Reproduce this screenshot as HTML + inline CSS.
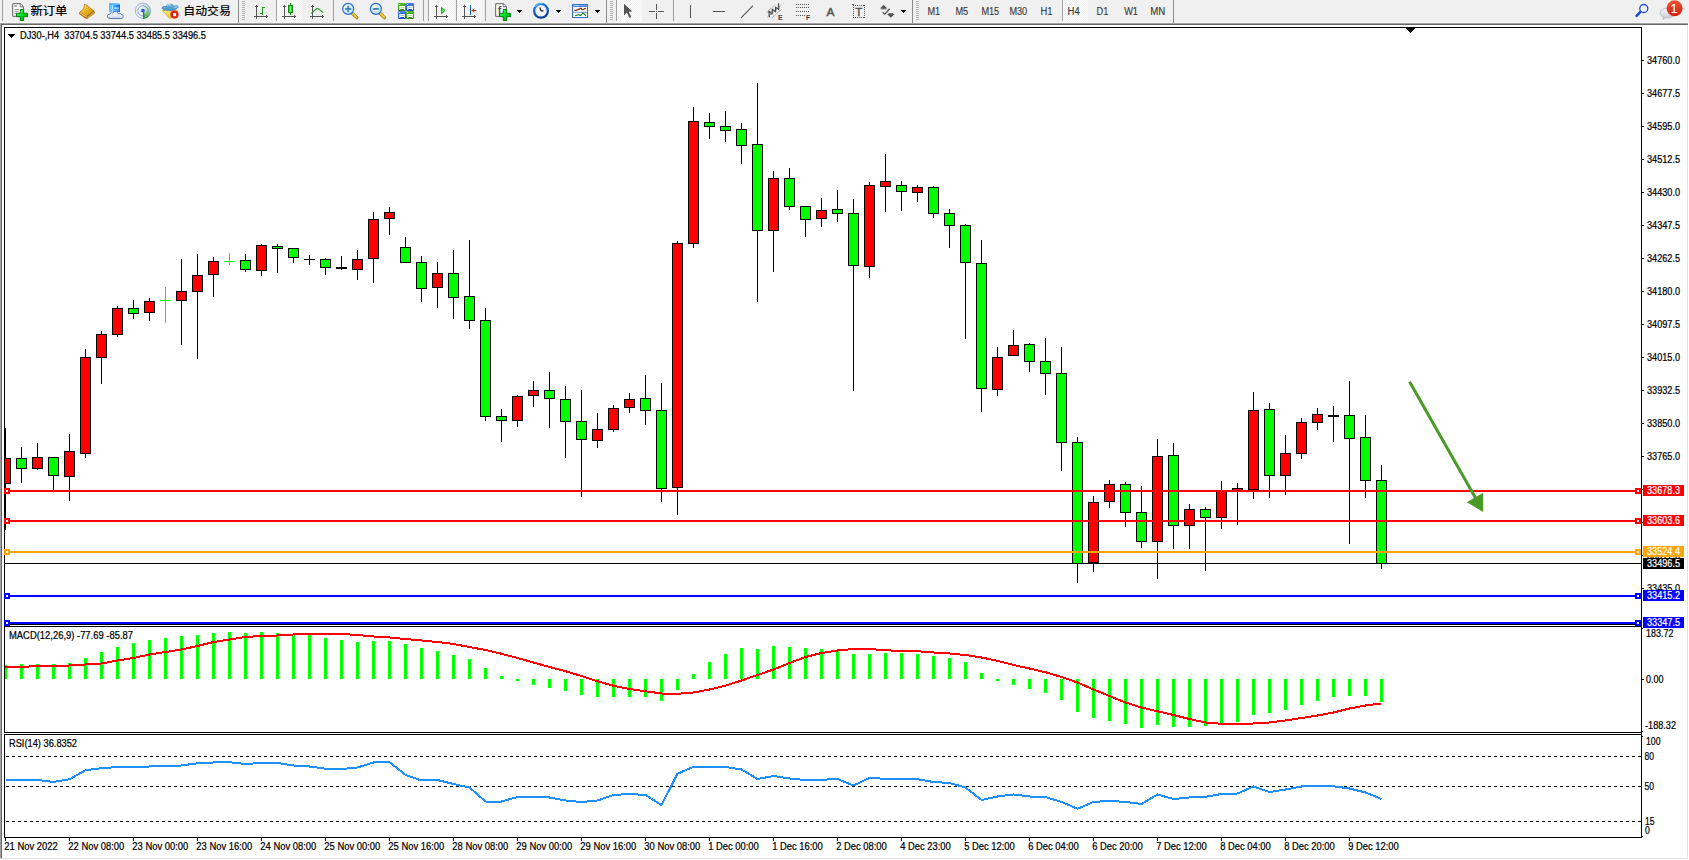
<!DOCTYPE html>
<html lang="zh-CN">
<head>
<meta charset="utf-8">
<title>DJ30-,H4</title>
<style>
html,body{margin:0;padding:0;background:#fff;overflow:hidden}
svg{display:block}
text{font-family:"Liberation Sans","Noto Sans CJK SC",sans-serif;white-space:pre}
</style>
</head>
<body>
<svg width="1689" height="860" viewBox="0 0 1689 860">
<defs>
<pattern id="chk" width="2" height="2" patternUnits="userSpaceOnUse"><rect width="2" height="2" fill="#ffffff"/><rect width="1" height="1" fill="#f0f0f0"/><rect x="1" y="1" width="1" height="1" fill="#f0f0f0"/></pattern>
<linearGradient id="gPlus" x1="0" y1="0" x2="1" y2="1"><stop offset="0" stop-color="#7dff8c"/><stop offset="0.45" stop-color="#00e428"/><stop offset="1" stop-color="#009a12"/></linearGradient>
<linearGradient id="gGold" x1="0" y1="0" x2="1" y2="1"><stop offset="0" stop-color="#fbe27a"/><stop offset="0.5" stop-color="#e9b21e"/><stop offset="1" stop-color="#c88a10"/></linearGradient>
<linearGradient id="gBlueBox" x1="0" y1="0" x2="1" y2="0"><stop offset="0" stop-color="#7fd0ff"/><stop offset="0.35" stop-color="#2aa0ff"/><stop offset="1" stop-color="#1466d8"/></linearGradient>
<linearGradient id="gCloud" x1="0" y1="0" x2="0" y2="1"><stop offset="0" stop-color="#ffffff"/><stop offset="1" stop-color="#c9d6ee"/></linearGradient>
<linearGradient id="gHat" x1="0" y1="0" x2="0" y2="1"><stop offset="0" stop-color="#86c6ec"/><stop offset="1" stop-color="#3c8ccc"/></linearGradient>
<linearGradient id="gFace" x1="0" y1="0" x2="1" y2="1"><stop offset="0" stop-color="#fff08a"/><stop offset="1" stop-color="#eab00c"/></linearGradient>
<linearGradient id="gRed" x1="0" y1="0" x2="0" y2="1"><stop offset="0" stop-color="#ea5233"/><stop offset="1" stop-color="#d42316"/></linearGradient>
<linearGradient id="gCandle" x1="0" y1="0" x2="1" y2="0"><stop offset="0" stop-color="#18c018"/><stop offset="0.5" stop-color="#7dff7d"/><stop offset="1" stop-color="#18c018"/></linearGradient>
<radialGradient id="gLens" cx="0.4" cy="0.35" r="0.7"><stop offset="0" stop-color="#f4fbff"/><stop offset="1" stop-color="#b9dcf6"/></radialGradient>
<linearGradient id="gGrn" x1="0" y1="0" x2="0" y2="1"><stop offset="0" stop-color="#5cb82c"/><stop offset="1" stop-color="#2c8a10"/></linearGradient>
<linearGradient id="gBlu" x1="0" y1="0" x2="0" y2="1"><stop offset="0" stop-color="#4a86ee"/><stop offset="1" stop-color="#1444c4"/></linearGradient>
<linearGradient id="gClock" x1="0" y1="0" x2="0.3" y2="1"><stop offset="0" stop-color="#2a8cec"/><stop offset="0.5" stop-color="#0a62c8"/><stop offset="1" stop-color="#083c90"/></linearGradient>
<linearGradient id="gTpl" x1="0" y1="0" x2="0" y2="1"><stop offset="0" stop-color="#9cc4f4"/><stop offset="1" stop-color="#2f63c6"/></linearGradient>
<radialGradient id="gSig" cx="0.5" cy="0.5" r="0.5"><stop offset="0" stop-color="#2e9c2e"/><stop offset="0.55" stop-color="#6bb66b"/><stop offset="1" stop-color="#d4e6d4"/></radialGradient>
<linearGradient id="gBub" x1="0" y1="0" x2="0" y2="1"><stop offset="0" stop-color="#f6f6f8"/><stop offset="1" stop-color="#c9c9d6"/></linearGradient>
</defs>
<g shape-rendering="crispEdges">
<rect x="0" y="0" width="1689" height="23" fill="#f0f0f0"/>
<rect x="0" y="22" width="1689" height="1" fill="#f7f7f7"/>
<rect x="0" y="23" width="1688" height="1" fill="#a0a0a0"/>
<rect x="1" y="24" width="1687" height="1" fill="#696969"/>
<rect x="1688" y="23" width="1" height="2" fill="#ffffff"/>
<rect x="277" y="0" width="25" height="22" fill="url(#chk)"/>
<rect x="429" y="0" width="25" height="22" fill="url(#chk)"/>
<rect x="457" y="0" width="25" height="22" fill="url(#chk)"/>
<rect x="617" y="0" width="25" height="22" fill="url(#chk)"/>
<rect x="1063" y="0" width="25" height="22" fill="url(#chk)"/>
<rect x="2" y="0" width="1" height="21" fill="#a0a0a0"/>
<rect x="238" y="0" width="1" height="23" fill="#8c8c8c"/>
<rect x="606" y="0" width="1" height="23" fill="#8c8c8c"/>
<rect x="912" y="0" width="1" height="23" fill="#8c8c8c"/>
<rect x="1173" y="0" width="1" height="23" fill="#8c8c8c"/>
<rect x="276" y="0" width="1" height="21" fill="#a0a0a0"/>
<rect x="333" y="0" width="1" height="21" fill="#a0a0a0"/>
<rect x="423" y="0" width="1" height="21" fill="#a0a0a0"/>
<rect x="428" y="0" width="1" height="21" fill="#a0a0a0"/>
<rect x="456" y="0" width="1" height="21" fill="#a0a0a0"/>
<rect x="485" y="0" width="1" height="21" fill="#a0a0a0"/>
<rect x="616" y="0" width="1" height="21" fill="#a0a0a0"/>
<rect x="673" y="0" width="1" height="21" fill="#a0a0a0"/>
<rect x="1062" y="0" width="1" height="21" fill="#a0a0a0"/>
<rect x="242" y="1" width="3" height="1" fill="#b2b2b2"/>
<rect x="242" y="3" width="3" height="1" fill="#b2b2b2"/>
<rect x="242" y="5" width="3" height="1" fill="#b2b2b2"/>
<rect x="242" y="7" width="3" height="1" fill="#b2b2b2"/>
<rect x="242" y="9" width="3" height="1" fill="#b2b2b2"/>
<rect x="242" y="11" width="3" height="1" fill="#b2b2b2"/>
<rect x="242" y="13" width="3" height="1" fill="#b2b2b2"/>
<rect x="242" y="15" width="3" height="1" fill="#b2b2b2"/>
<rect x="242" y="17" width="3" height="1" fill="#b2b2b2"/>
<rect x="242" y="19" width="3" height="1" fill="#b2b2b2"/>
<rect x="610" y="1" width="3" height="1" fill="#b2b2b2"/>
<rect x="610" y="3" width="3" height="1" fill="#b2b2b2"/>
<rect x="610" y="5" width="3" height="1" fill="#b2b2b2"/>
<rect x="610" y="7" width="3" height="1" fill="#b2b2b2"/>
<rect x="610" y="9" width="3" height="1" fill="#b2b2b2"/>
<rect x="610" y="11" width="3" height="1" fill="#b2b2b2"/>
<rect x="610" y="13" width="3" height="1" fill="#b2b2b2"/>
<rect x="610" y="15" width="3" height="1" fill="#b2b2b2"/>
<rect x="610" y="17" width="3" height="1" fill="#b2b2b2"/>
<rect x="610" y="19" width="3" height="1" fill="#b2b2b2"/>
<rect x="916" y="1" width="3" height="1" fill="#b2b2b2"/>
<rect x="916" y="3" width="3" height="1" fill="#b2b2b2"/>
<rect x="916" y="5" width="3" height="1" fill="#b2b2b2"/>
<rect x="916" y="7" width="3" height="1" fill="#b2b2b2"/>
<rect x="916" y="9" width="3" height="1" fill="#b2b2b2"/>
<rect x="916" y="11" width="3" height="1" fill="#b2b2b2"/>
<rect x="916" y="13" width="3" height="1" fill="#b2b2b2"/>
<rect x="916" y="15" width="3" height="1" fill="#b2b2b2"/>
<rect x="916" y="17" width="3" height="1" fill="#b2b2b2"/>
<rect x="916" y="19" width="3" height="1" fill="#b2b2b2"/>
<rect x="517" y="10" width="5" height="1" fill="#000"/>
<rect x="518" y="11" width="3" height="1" fill="#000"/>
<rect x="519" y="12" width="1" height="1" fill="#000"/>
<rect x="556" y="10" width="5" height="1" fill="#000"/>
<rect x="557" y="11" width="3" height="1" fill="#000"/>
<rect x="558" y="12" width="1" height="1" fill="#000"/>
<rect x="595" y="10" width="5" height="1" fill="#000"/>
<rect x="596" y="11" width="3" height="1" fill="#000"/>
<rect x="597" y="12" width="1" height="1" fill="#000"/>
<rect x="901" y="10" width="5" height="1" fill="#000"/>
<rect x="902" y="11" width="3" height="1" fill="#000"/>
<rect x="903" y="12" width="1" height="1" fill="#000"/>
<rect x="256" y="5" width="1" height="14" fill="#545454"/>
<rect x="255" y="6" width="3" height="1" fill="#545454"/>
<rect x="254" y="16" width="14" height="1" fill="#545454"/>
<rect x="266" y="15" width="1" height="3" fill="#545454"/>
<rect x="284" y="5" width="1" height="14" fill="#545454"/>
<rect x="283" y="6" width="3" height="1" fill="#545454"/>
<rect x="282" y="16" width="14" height="1" fill="#545454"/>
<rect x="294" y="15" width="1" height="3" fill="#545454"/>
<rect x="312" y="5" width="1" height="14" fill="#545454"/>
<rect x="311" y="6" width="3" height="1" fill="#545454"/>
<rect x="310" y="16" width="14" height="1" fill="#545454"/>
<rect x="322" y="15" width="1" height="3" fill="#545454"/>
<rect x="436" y="5" width="1" height="14" fill="#545454"/>
<rect x="435" y="6" width="3" height="1" fill="#545454"/>
<rect x="434" y="16" width="14" height="1" fill="#545454"/>
<rect x="446" y="15" width="1" height="3" fill="#545454"/>
<rect x="464" y="5" width="1" height="14" fill="#545454"/>
<rect x="463" y="6" width="3" height="1" fill="#545454"/>
<rect x="462" y="16" width="14" height="1" fill="#545454"/>
<rect x="474" y="15" width="1" height="3" fill="#545454"/>
<rect x="262" y="7" width="1" height="8" fill="#1c9c1c"/>
<rect x="263" y="7" width="2" height="1" fill="#1c9c1c"/>
<rect x="260" y="13" width="2" height="1" fill="#1c9c1c"/>
<rect x="290" y="3" width="1" height="12" fill="#0c8c0c"/>
<rect x="288" y="5" width="5" height="8" fill="#0c8c0c"/>
<rect x="289" y="6" width="3" height="6" fill="url(#gCandle)"/>
<rect x="470" y="5" width="1" height="10" fill="#1464b4"/>
<rect x="649" y="11" width="6" height="1" fill="#545454"/>
<rect x="658" y="11" width="6" height="1" fill="#545454"/>
<rect x="656" y="4" width="1" height="6" fill="#545454"/>
<rect x="656" y="13" width="1" height="6" fill="#545454"/>
<rect x="656" y="11" width="1" height="1" fill="#545454"/>
<rect x="690" y="5" width="1" height="13" fill="#545454"/>
<rect x="713" y="11" width="12" height="1" fill="#545454"/>
<rect x="796" y="4" width="1" height="1" fill="#545454"/>
<rect x="798" y="4" width="1" height="1" fill="#545454"/>
<rect x="800" y="4" width="1" height="1" fill="#545454"/>
<rect x="802" y="4" width="1" height="1" fill="#545454"/>
<rect x="804" y="4" width="1" height="1" fill="#545454"/>
<rect x="806" y="4" width="1" height="1" fill="#545454"/>
<rect x="808" y="4" width="1" height="1" fill="#545454"/>
<rect x="796" y="7" width="1" height="1" fill="#545454"/>
<rect x="798" y="7" width="1" height="1" fill="#545454"/>
<rect x="800" y="7" width="1" height="1" fill="#545454"/>
<rect x="802" y="7" width="1" height="1" fill="#545454"/>
<rect x="804" y="7" width="1" height="1" fill="#545454"/>
<rect x="806" y="7" width="1" height="1" fill="#545454"/>
<rect x="808" y="7" width="1" height="1" fill="#545454"/>
<rect x="796" y="11" width="1" height="1" fill="#545454"/>
<rect x="798" y="11" width="1" height="1" fill="#545454"/>
<rect x="800" y="11" width="1" height="1" fill="#545454"/>
<rect x="802" y="11" width="1" height="1" fill="#545454"/>
<rect x="804" y="11" width="1" height="1" fill="#545454"/>
<rect x="806" y="11" width="1" height="1" fill="#545454"/>
<rect x="808" y="11" width="1" height="1" fill="#545454"/>
<rect x="796" y="15" width="1" height="1" fill="#545454"/>
<rect x="798" y="15" width="1" height="1" fill="#545454"/>
<rect x="800" y="15" width="1" height="1" fill="#545454"/>
<rect x="802" y="15" width="1" height="1" fill="#545454"/>
<rect x="804" y="15" width="1" height="1" fill="#545454"/>
<rect x="853" y="5" width="1" height="1" fill="#545454"/>
<rect x="853" y="17" width="1" height="1" fill="#545454"/>
<rect x="855" y="5" width="1" height="1" fill="#545454"/>
<rect x="855" y="17" width="1" height="1" fill="#545454"/>
<rect x="857" y="5" width="1" height="1" fill="#545454"/>
<rect x="857" y="17" width="1" height="1" fill="#545454"/>
<rect x="859" y="5" width="1" height="1" fill="#545454"/>
<rect x="859" y="17" width="1" height="1" fill="#545454"/>
<rect x="861" y="5" width="1" height="1" fill="#545454"/>
<rect x="861" y="17" width="1" height="1" fill="#545454"/>
<rect x="863" y="5" width="1" height="1" fill="#545454"/>
<rect x="863" y="17" width="1" height="1" fill="#545454"/>
<rect x="853" y="5" width="1" height="1" fill="#545454"/>
<rect x="864" y="5" width="1" height="1" fill="#545454"/>
<rect x="853" y="7" width="1" height="1" fill="#545454"/>
<rect x="864" y="7" width="1" height="1" fill="#545454"/>
<rect x="853" y="9" width="1" height="1" fill="#545454"/>
<rect x="864" y="9" width="1" height="1" fill="#545454"/>
<rect x="853" y="11" width="1" height="1" fill="#545454"/>
<rect x="864" y="11" width="1" height="1" fill="#545454"/>
<rect x="853" y="13" width="1" height="1" fill="#545454"/>
<rect x="864" y="13" width="1" height="1" fill="#545454"/>
<rect x="853" y="15" width="1" height="1" fill="#545454"/>
<rect x="864" y="15" width="1" height="1" fill="#545454"/>
<rect x="853" y="17" width="1" height="1" fill="#545454"/>
<rect x="864" y="17" width="1" height="1" fill="#545454"/>
<rect x="852" y="4" width="2" height="1" fill="#545454"/>
</g>
<path d="M13.6 3.6h6.6l3.2 3.2v8.6a1 1 0 0 1 -1 1h-8.8a1 1 0 0 1 -1 -1v-10.8a1 1 0 0 1 1 -1z" fill="#fff" stroke="#787878" stroke-width="1.2"/>
<path d="M20.2 3.8v3h3" fill="#f4f4f4" stroke="#787878" stroke-width="1"/>
<path d="M14.2 6h2.6" stroke="#8c8c8c" stroke-width="1.4"/><path d="M14.2 9.5h4.6M14.2 11.5h4.4M14.2 13.5h2" stroke="#8c8c8c" stroke-width="0.9"/>
<path d="M20.3 9.5h3.4v3.8h3.8v3.4h-3.8v3.8h-3.4v-3.8h-3.8v-3.4h3.8z" fill="url(#gPlus)" stroke="#067a10" stroke-width="1"/>
<path d="M84.3 4L86 4.4L93.9 10.4L94.9 12.5L94.3 14L87 18.9L85.6 18.7L79.1 13.9L79.2 12.6L83.4 8.4Z" fill="#a86c0c"/>
<path d="M84.6 4.9L85.8 5.1L93.3 10.8L86.6 15.9L80.4 12.2L84 8.6Z" fill="url(#gGold)"/>
<path d="M80 12.7L86.6 16.6L86.7 18L79.8 13.6Z" fill="#d9a21a"/>
<path d="M80.1 12.9L86.5 16.8" fill="none" stroke="#f8e08c" stroke-width="0.7"/>
<path d="M87.5 17.2L94 12.3M87.6 18L94.3 13.2" fill="none" stroke="#ecdca0" stroke-width="0.5"/>
<path d="M109 3.6L112.2 3.2L119.3 3.8L120 4.6V12H109Z" fill="#1e96ff"/>
<path d="M109 4.2L112.2 5.2V12H109Z" fill="#5cc0ff"/>
<path d="M112.2 5.2L120 4.8V12H112.2Z" fill="url(#gBlueBox)"/>
<path d="M109 3.8L112.2 5.2L120 4.7L119.3 3.8L112.2 3.2Z" fill="#6ab8f6"/>
<path d="M112.3 5.2V12" stroke="#d8f0ff" stroke-width="0.7"/>
<path d="M114.4 8.1h4.4" stroke="#f2faff" stroke-width="1.1"/><path d="M114.4 10.3h4.8" stroke="#8ccaf8" stroke-width="0.8"/>
<path d="M110.2 18.5C108 18.5 107.2 17.2 107.4 16C107.6 14.8 108.6 14 109.8 14.2C110 13 111.6 12.4 112.6 13.2C113.2 11.6 115 11.2 116.2 11.6C117.4 12 118 12.8 118.2 13.8C119.4 13 121 13.4 121.6 14.6C123 14.8 123.4 16 123.1 17C122.8 18 121.8 18.5 120.6 18.5Z" fill="url(#gCloud)" stroke="#4c6aa8" stroke-width="0.9"/>
<path d="M142.9 10.8L142.90 2.90A7.9 7.9 0 0 1 145.99 3.53Z" fill="#2c9a2c" opacity="0.1"/>
<path d="M142.9 10.8L145.92 3.50A7.9 7.9 0 0 1 148.53 5.26Z" fill="#2c9a2c" opacity="0.16"/>
<path d="M142.9 10.8L148.49 5.21A7.9 7.9 0 0 1 150.22 7.84Z" fill="#2c9a2c" opacity="0.24"/>
<path d="M142.9 10.8L150.20 7.78A7.9 7.9 0 0 1 150.80 10.87Z" fill="#2c9a2c" opacity="0.32"/>
<path d="M142.9 10.8L150.80 10.80A7.9 7.9 0 0 1 150.17 13.89Z" fill="#2c9a2c" opacity="0.42"/>
<path d="M142.9 10.8L150.20 13.82A7.9 7.9 0 0 1 148.44 16.43Z" fill="#2c9a2c" opacity="0.54"/>
<path d="M142.9 10.8L148.49 16.39A7.9 7.9 0 0 1 145.86 18.12Z" fill="#2c9a2c" opacity="0.68"/>
<path d="M142.9 10.8L145.92 18.10A7.9 7.9 0 0 1 142.90 18.70Z" fill="#2c9a2c" opacity="0.82"/>
<circle cx="142.9" cy="10.8" r="7.6" fill="none" stroke="#4a74d8" stroke-width="0.9" opacity="0.55"/>
<circle cx="142.9" cy="10.8" r="5.1" fill="none" stroke="#3f6ad6" stroke-width="0.9" opacity="0.6"/>
<circle cx="142.9" cy="10.8" r="2.9" fill="none" stroke="#e8eef8" stroke-width="1" opacity="0.8"/>
<circle cx="142.9" cy="10.6" r="1.9" fill="#2a56cf"/>
<path d="M149.5 14.6A7.6 7.6 0 0 1 143.6 18.4" fill="none" stroke="#2a942a" stroke-width="1"/>
<path d="M143.6 11v7.6" stroke="#16a016" stroke-width="1.2"/>
<path d="M162.4 10.4L177.6 10.2L170 18.8Z" fill="url(#gFace)" stroke="#d8a00c" stroke-width="0.7" stroke-linejoin="round"/>
<path d="M162 8C162 6.6 164.6 6.2 166.3 6.6C166.3 3.4 173.7 3.4 173.8 6.3C175.6 5.6 178 5.2 178.1 6.4C178.2 8.6 173.8 10.4 170 10.4C166 10.4 162 9.8 162 8Z" fill="url(#gHat)" stroke="#2c82b4" stroke-width="0.7"/>
<path d="M167.6 5.4C168.2 4.4 169.4 4 170.4 4.2" fill="none" stroke="#cfe8f8" stroke-width="0.9" stroke-linecap="round"/>
<path d="M174.6 7.6C175.8 7.2 176.8 6.8 177.4 6.4" fill="none" stroke="#d8ecfa" stroke-width="0.7" stroke-linecap="round"/>
<path d="M166.6 6.6C168.6 7.6 171.6 7.6 173.6 6.4" fill="none" stroke="#2c82b4" stroke-width="0.6" opacity="0.7"/>
<circle cx="174.5" cy="14.6" r="4.1" fill="#de2208"/>
<rect x="173" y="13.1" width="3.1" height="3.1" fill="#fff"/>
<path d="M311.2 13.6C314 12 315.2 8.4 317.4 8.4C319.4 8.4 320.6 11.6 323.2 12.4" fill="none" stroke="#2a9c2a" stroke-width="1.2"/>
<path d="M441.6 7.4V13.6L445 10.5Z" fill="#6aea6a" stroke="#109810" stroke-width="1"/>
<path d="M471.6 10.5h4.6" stroke="#cc3404" stroke-width="1" fill="none"/><path d="M471.4 10.5L474.2 8.2V12.8Z" fill="#d83c04"/>
<path d="M352.4 13.5L356.8 17.700000000000003" stroke="#a07a10" stroke-width="3.2" stroke-linecap="round"/>
<path d="M352.59999999999997 13.5L356.59999999999997 17.3" stroke="#f0cc3c" stroke-width="1.8" stroke-linecap="round"/>
<circle cx="348.2" cy="8.9" r="5.5" fill="url(#gLens)" stroke="#2a6cd0" stroke-width="1.2"/>
<path d="M345.2 8.9h6" stroke="#3c84b4" stroke-width="1.8"/>
<path d="M348.2 5.9v6" stroke="#3c84b4" stroke-width="1.8"/>
<path d="M380.09999999999997 13.5L384.5 17.700000000000003" stroke="#a07a10" stroke-width="3.2" stroke-linecap="round"/>
<path d="M380.29999999999995 13.5L384.29999999999995 17.3" stroke="#f0cc3c" stroke-width="1.8" stroke-linecap="round"/>
<circle cx="375.9" cy="8.9" r="5.5" fill="url(#gLens)" stroke="#2a6cd0" stroke-width="1.2"/>
<path d="M372.9 8.9h6" stroke="#3c84b4" stroke-width="1.8"/>
<rect x="398" y="3" width="8" height="8" rx="1" fill="url(#gGrn)"/>
<path d="M399.2 6.1h5.7v3.9h-1v-.9h-3.7v.9h-1z" fill="#fff"/>
<rect x="399.1" y="4.1" width="0.9" height="0.9" fill="#fff" opacity="0.9"/>
<rect x="400.2" y="7.2" width="3.7" height="0.8" fill="#a6da8c"/>
<rect x="406" y="3" width="8" height="8" rx="1" fill="url(#gBlu)"/>
<path d="M407.2 6.1h5.7v3.9h-1v-.9h-3.7v.9h-1z" fill="#fff"/>
<rect x="407.1" y="4.1" width="0.9" height="0.9" fill="#fff" opacity="0.9"/>
<rect x="408.2" y="7.2" width="3.7" height="0.8" fill="#98b2f0"/>
<rect x="398" y="11" width="8" height="8" rx="1" fill="url(#gBlu)"/>
<path d="M399.2 14.1h5.7v3.9h-1v-.9h-3.7v.9h-1z" fill="#fff"/>
<rect x="399.1" y="12.1" width="0.9" height="0.9" fill="#fff" opacity="0.9"/>
<rect x="400.2" y="15.2" width="3.7" height="0.8" fill="#98b2f0"/>
<rect x="406" y="11" width="8" height="8" rx="1" fill="url(#gGrn)"/>
<path d="M407.2 14.1h5.7v3.9h-1v-.9h-3.7v.9h-1z" fill="#fff"/>
<rect x="407.1" y="12.1" width="0.9" height="0.9" fill="#fff" opacity="0.9"/>
<rect x="408.2" y="15.2" width="3.7" height="0.8" fill="#a6da8c"/>
<path d="M496.6 3.6h6.6l3.2 3.2v8.6a1 1 0 0 1 -1 1h-8.8a1 1 0 0 1 -1 -1v-10.8a1 1 0 0 1 1 -1z" fill="#fff" stroke="#787878" stroke-width="1.2"/>
<path d="M503.2 3.8v3h3" fill="#f4f4f4" stroke="#787878" stroke-width="1"/>
<text x="498" y="14" font-size="11.5" font-family="Liberation Serif,serif" fill="#484848" stroke="#484848" stroke-width="0.25">f</text>
<path d="M503.3 9.5h3.4v3.8h3.8v3.4h-3.8v3.8h-3.4v-3.8h-3.8v-3.4h3.8z" fill="url(#gPlus)" stroke="#067a10" stroke-width="1"/>
<circle cx="541" cy="10.8" r="6.9" fill="#f6f8fc" stroke="url(#gClock)" stroke-width="2.2"/>
<path d="M535.2 6.6A7.4 7.4 0 0 1 542 3.5" fill="none" stroke="#6cc0fa" stroke-width="1" stroke-linecap="round" opacity="0.9"/>
<circle cx="541" cy="10.8" r="4.6" fill="none" stroke="#a8a8a8" stroke-width="0.9" stroke-dasharray="0.6 1.81"/>
<path d="M539.9 7.4L541 10.8H543.5" fill="none" stroke="#181818" stroke-width="1.2" stroke-linejoin="round"/>
<rect x="572.5" y="4.5" width="15" height="13" fill="#fff" stroke="#2f6cc6" stroke-width="1"/>
<rect x="573" y="5" width="14" height="2" fill="url(#gTpl)"/>
<path d="M573.6 5.6h5" stroke="#e8f2ff" stroke-width="0.7"/>
<path d="M573 12.3h14" stroke="#5a8cd8" stroke-width="0.9"/>
<path d="M574.4 10.45H576.4L577.8 9.4H578.9L580 8.4H581L581.8 9.5H583.6L584.8 8.5H585.9" fill="none" stroke="#962204" stroke-width="1.2"/>
<path d="M575.1 15.5H576.6L577.8 14.5H578.7L579.8 15.5H580.7L582.7 13.3H583.6L585.9 15.8" fill="none" stroke="#168c16" stroke-width="1.2"/>
<path d="M624 3.8V15.4L626.9 12.6L629.4 17.9L631.3 17L628.8 11.8L632.4 11.6Z" fill="#545454"/>
<path d="M741 17.8L753 5.6" stroke="#545454" stroke-width="1.1"/>
<path d="M766.6 12.4L774.9 5M767.6 16.9L781 5.4M772 17.6L781.4 9.6" stroke="#6a6a6a" stroke-width="0.8" stroke-dasharray="1 0.6"/>
<path d="M769.4 17.4L768.9 11L772.1 14.2L772.3 9.2L775.6 11.7L775.6 7.1L778.8 9.6L778.5 3.2" fill="none" stroke="#484848" stroke-width="1.2" stroke-linejoin="round"/>
<text x="778" y="20" font-size="6.8" font-weight="bold" fill="#3c3c3c">E</text>
<text x="806" y="20" font-size="6.8" font-weight="bold" fill="#3c3c3c">F</text>
<text x="826.6" y="16" font-size="11.6" fill="#555" stroke="#555" stroke-width="0.5" textLength="7.9" lengthAdjust="spacingAndGlyphs">A</text>
<text x="855.3" y="16" font-size="11.6" fill="#555" stroke="#555" stroke-width="0.45">T</text>
<path d="M883.6 4.8L887.4 8.6H880Z" fill="#545454"/><path d="M881.2 8.4h5v1h-5z" fill="#545454"/>
<path d="M890.8 17.8L887 14H894.6Z" fill="#545454"/><path d="M888.4 13.2h5v1h-5z" fill="#545454"/>
<path d="M882.6 12.2L884.8 14.2L889.6 8.8" fill="none" stroke="#545454" stroke-width="1.3"/>
<text x="30.4" y="14.9" font-size="11.5" font-weight="500" fill="#000" textLength="37" lengthAdjust="spacingAndGlyphs">新订单</text>
<text x="183.3" y="14.9" font-size="11.5" font-weight="500" fill="#000" textLength="47.6" lengthAdjust="spacingAndGlyphs">自动交易</text>
<text x="927.4" y="14.60" fill="#3c3c3c" stroke="#3c3c3c" stroke-width="0.15" font-size="10" textLength="12.8" lengthAdjust="spacingAndGlyphs">M1</text>
<text x="955.4" y="14.60" fill="#3c3c3c" stroke="#3c3c3c" stroke-width="0.15" font-size="10" textLength="12.8" lengthAdjust="spacingAndGlyphs">M5</text>
<text x="981.4" y="14.60" fill="#3c3c3c" stroke="#3c3c3c" stroke-width="0.15" font-size="10" textLength="17.8" lengthAdjust="spacingAndGlyphs">M15</text>
<text x="1009.4" y="14.60" fill="#3c3c3c" stroke="#3c3c3c" stroke-width="0.15" font-size="10" textLength="17.8" lengthAdjust="spacingAndGlyphs">M30</text>
<text x="1040.4" y="14.60" fill="#3c3c3c" stroke="#3c3c3c" stroke-width="0.15" font-size="10" textLength="12.0" lengthAdjust="spacingAndGlyphs">H1</text>
<text x="1067.5" y="14.60" fill="#3c3c3c" stroke="#3c3c3c" stroke-width="0.15" font-size="10" textLength="12.2" lengthAdjust="spacingAndGlyphs">H4</text>
<text x="1096.6" y="14.60" fill="#3c3c3c" stroke="#3c3c3c" stroke-width="0.15" font-size="10" textLength="11.8" lengthAdjust="spacingAndGlyphs">D1</text>
<text x="1124.2" y="14.60" fill="#3c3c3c" stroke="#3c3c3c" stroke-width="0.15" font-size="10" textLength="13.8" lengthAdjust="spacingAndGlyphs">W1</text>
<text x="1150.3" y="14.60" fill="#3c3c3c" stroke="#3c3c3c" stroke-width="0.15" font-size="10" textLength="15.0" lengthAdjust="spacingAndGlyphs">MN</text>
<path d="M1640.6 11.6L1636.6 15.8" stroke="#1c50d0" stroke-width="2.6" stroke-linecap="round"/>
<circle cx="1643.8" cy="8.5" r="4" fill="#f6f6fb" stroke="#1c50d0" stroke-width="1.3"/>
<path d="M1667.6 8.2c4.4 0 7.6 2 7.6 4.8s-3.2 4.8 -7.6 4.8c-.8 0 -1.6 -.1 -2.3 -.2l-2 1.9l.3 -2.6c-2.2 -.8 -3.5 -2.2 -3.5 -3.9c0 -2.8 3.2 -4.8 7.5 -4.8z" fill="url(#gBub)" stroke="#b4b4bc" stroke-width="0.8"/>
<circle cx="1674.6" cy="8.3" r="8" fill="url(#gRed)"/>
<text x="1673.9" y="13" font-size="12.5" fill="#fff" text-anchor="middle" stroke="#fff" stroke-width="0.15">1</text>
<g shape-rendering="crispEdges">
<rect x="0" y="25" width="1689" height="835" fill="#ffffff"/>
<rect x="0" y="23" width="1" height="836" fill="#a0a0a0"/>
<rect x="1" y="24" width="1" height="834" fill="#696969"/>
<rect x="1687" y="25" width="1" height="834" fill="#e3e3e3"/>
<rect x="0" y="858" width="1688" height="1" fill="#e3e3e3"/>
<rect x="4" y="27" width="1638" height="1" fill="#000000"/>
<rect x="4" y="624" width="1638" height="1" fill="#000000"/>
<rect x="4" y="626" width="1638" height="1" fill="#000000"/>
<rect x="4" y="732" width="1638" height="1" fill="#000000"/>
<rect x="4" y="734" width="1638" height="1" fill="#000000"/>
<rect x="4" y="837" width="1638" height="1" fill="#000000"/>
<rect x="4" y="27" width="1" height="598" fill="#000000"/>
<rect x="4" y="626" width="1" height="107" fill="#000000"/>
<rect x="4" y="734" width="1" height="104" fill="#000000"/>
<rect x="1641" y="27" width="1" height="811" fill="#000000"/>
<rect x="5" y="428" width="1" height="102" fill="#000000"/>
<rect x="5" y="458" width="6" height="26" fill="#000000"/>
<rect x="5" y="459" width="5" height="24" fill="#ff0000"/>
<rect x="21" y="447" width="1" height="36" fill="#000000"/>
<rect x="16" y="458" width="11" height="11" fill="#000000"/>
<rect x="17" y="459" width="9" height="9" fill="#00ff00"/>
<rect x="37" y="443" width="1" height="27" fill="#000000"/>
<rect x="32" y="457" width="11" height="12" fill="#000000"/>
<rect x="33" y="458" width="9" height="10" fill="#ff0000"/>
<rect x="53" y="457" width="1" height="33" fill="#000000"/>
<rect x="48" y="457" width="11" height="19" fill="#000000"/>
<rect x="49" y="458" width="9" height="17" fill="#00ff00"/>
<rect x="69" y="434" width="1" height="67" fill="#000000"/>
<rect x="64" y="451" width="11" height="26" fill="#000000"/>
<rect x="65" y="452" width="9" height="24" fill="#ff0000"/>
<rect x="85" y="349" width="1" height="109" fill="#000000"/>
<rect x="80" y="357" width="11" height="97" fill="#000000"/>
<rect x="81" y="358" width="9" height="95" fill="#ff0000"/>
<rect x="101" y="331" width="1" height="53" fill="#000000"/>
<rect x="96" y="334" width="11" height="24" fill="#000000"/>
<rect x="97" y="335" width="9" height="22" fill="#ff0000"/>
<rect x="117" y="306" width="1" height="31" fill="#000000"/>
<rect x="112" y="308" width="11" height="27" fill="#000000"/>
<rect x="113" y="309" width="9" height="25" fill="#ff0000"/>
<rect x="133" y="300" width="1" height="19" fill="#000000"/>
<rect x="128" y="308" width="11" height="6" fill="#000000"/>
<rect x="129" y="309" width="9" height="4" fill="#00ff00"/>
<rect x="149" y="298" width="1" height="23" fill="#000000"/>
<rect x="144" y="301" width="11" height="12" fill="#000000"/>
<rect x="145" y="302" width="9" height="10" fill="#ff0000"/>
<rect x="165" y="287" width="1" height="36" fill="#00ff00"/>
<rect x="160" y="300" width="11" height="1" fill="#00ff00"/>
<rect x="181" y="259" width="1" height="86" fill="#000000"/>
<rect x="176" y="291" width="11" height="10" fill="#000000"/>
<rect x="177" y="292" width="9" height="8" fill="#ff0000"/>
<rect x="197" y="254" width="1" height="105" fill="#000000"/>
<rect x="192" y="275" width="11" height="17" fill="#000000"/>
<rect x="193" y="276" width="9" height="15" fill="#ff0000"/>
<rect x="213" y="257" width="1" height="40" fill="#000000"/>
<rect x="208" y="261" width="11" height="14" fill="#000000"/>
<rect x="209" y="262" width="9" height="12" fill="#ff0000"/>
<rect x="229" y="253" width="1" height="12" fill="#00ff00"/>
<rect x="224" y="261" width="11" height="1" fill="#00ff00"/>
<rect x="245" y="254" width="1" height="18" fill="#000000"/>
<rect x="240" y="260" width="11" height="10" fill="#000000"/>
<rect x="241" y="261" width="9" height="8" fill="#00ff00"/>
<rect x="261" y="244" width="1" height="32" fill="#000000"/>
<rect x="256" y="245" width="11" height="26" fill="#000000"/>
<rect x="257" y="246" width="9" height="24" fill="#ff0000"/>
<rect x="277" y="244" width="1" height="29" fill="#000000"/>
<rect x="272" y="246" width="11" height="3" fill="#000000"/>
<rect x="273" y="247" width="9" height="1" fill="#00ff00"/>
<rect x="293" y="248" width="1" height="15" fill="#000000"/>
<rect x="288" y="248" width="11" height="10" fill="#000000"/>
<rect x="289" y="249" width="9" height="8" fill="#00ff00"/>
<rect x="309" y="255" width="1" height="10" fill="#000000"/>
<rect x="304" y="259" width="11" height="1" fill="#000000"/>
<rect x="325" y="258" width="1" height="17" fill="#000000"/>
<rect x="320" y="259" width="11" height="9" fill="#000000"/>
<rect x="321" y="260" width="9" height="7" fill="#00ff00"/>
<rect x="341" y="256" width="1" height="14" fill="#000000"/>
<rect x="336" y="267" width="11" height="2" fill="#000000"/>
<rect x="357" y="250" width="1" height="30" fill="#000000"/>
<rect x="352" y="259" width="11" height="11" fill="#000000"/>
<rect x="353" y="260" width="9" height="9" fill="#ff0000"/>
<rect x="373" y="212" width="1" height="71" fill="#000000"/>
<rect x="368" y="219" width="11" height="40" fill="#000000"/>
<rect x="369" y="220" width="9" height="38" fill="#ff0000"/>
<rect x="389" y="207" width="1" height="28" fill="#000000"/>
<rect x="384" y="212" width="11" height="7" fill="#000000"/>
<rect x="385" y="213" width="9" height="5" fill="#ff0000"/>
<rect x="405" y="237" width="1" height="26" fill="#000000"/>
<rect x="400" y="247" width="11" height="16" fill="#000000"/>
<rect x="401" y="248" width="9" height="14" fill="#00ff00"/>
<rect x="421" y="256" width="1" height="46" fill="#000000"/>
<rect x="416" y="262" width="11" height="27" fill="#000000"/>
<rect x="417" y="263" width="9" height="25" fill="#00ff00"/>
<rect x="437" y="262" width="1" height="46" fill="#000000"/>
<rect x="432" y="273" width="11" height="15" fill="#000000"/>
<rect x="433" y="274" width="9" height="13" fill="#ff0000"/>
<rect x="453" y="250" width="1" height="69" fill="#000000"/>
<rect x="448" y="273" width="11" height="25" fill="#000000"/>
<rect x="449" y="274" width="9" height="23" fill="#00ff00"/>
<rect x="469" y="240" width="1" height="89" fill="#000000"/>
<rect x="464" y="296" width="11" height="25" fill="#000000"/>
<rect x="465" y="297" width="9" height="23" fill="#00ff00"/>
<rect x="485" y="308" width="1" height="113" fill="#000000"/>
<rect x="480" y="320" width="11" height="97" fill="#000000"/>
<rect x="481" y="321" width="9" height="95" fill="#00ff00"/>
<rect x="501" y="409" width="1" height="33" fill="#000000"/>
<rect x="496" y="416" width="11" height="5" fill="#000000"/>
<rect x="497" y="417" width="9" height="3" fill="#00ff00"/>
<rect x="517" y="395" width="1" height="32" fill="#000000"/>
<rect x="512" y="396" width="11" height="25" fill="#000000"/>
<rect x="513" y="397" width="9" height="23" fill="#ff0000"/>
<rect x="533" y="381" width="1" height="26" fill="#000000"/>
<rect x="528" y="390" width="11" height="6" fill="#000000"/>
<rect x="529" y="391" width="9" height="4" fill="#ff0000"/>
<rect x="549" y="372" width="1" height="56" fill="#000000"/>
<rect x="544" y="390" width="11" height="9" fill="#000000"/>
<rect x="545" y="391" width="9" height="7" fill="#00ff00"/>
<rect x="565" y="386" width="1" height="72" fill="#000000"/>
<rect x="560" y="399" width="11" height="23" fill="#000000"/>
<rect x="561" y="400" width="9" height="21" fill="#00ff00"/>
<rect x="581" y="390" width="1" height="107" fill="#000000"/>
<rect x="576" y="421" width="11" height="19" fill="#000000"/>
<rect x="577" y="422" width="9" height="17" fill="#00ff00"/>
<rect x="597" y="413" width="1" height="35" fill="#000000"/>
<rect x="592" y="429" width="11" height="12" fill="#000000"/>
<rect x="593" y="430" width="9" height="10" fill="#ff0000"/>
<rect x="613" y="405" width="1" height="27" fill="#000000"/>
<rect x="608" y="408" width="11" height="22" fill="#000000"/>
<rect x="609" y="409" width="9" height="20" fill="#ff0000"/>
<rect x="629" y="393" width="1" height="20" fill="#000000"/>
<rect x="624" y="399" width="11" height="9" fill="#000000"/>
<rect x="625" y="400" width="9" height="7" fill="#ff0000"/>
<rect x="645" y="375" width="1" height="50" fill="#000000"/>
<rect x="640" y="398" width="11" height="13" fill="#000000"/>
<rect x="641" y="399" width="9" height="11" fill="#00ff00"/>
<rect x="661" y="383" width="1" height="119" fill="#000000"/>
<rect x="656" y="410" width="11" height="79" fill="#000000"/>
<rect x="657" y="411" width="9" height="77" fill="#00ff00"/>
<rect x="677" y="241" width="1" height="274" fill="#000000"/>
<rect x="672" y="243" width="11" height="245" fill="#000000"/>
<rect x="673" y="244" width="9" height="243" fill="#ff0000"/>
<rect x="693" y="107" width="1" height="141" fill="#000000"/>
<rect x="688" y="121" width="11" height="123" fill="#000000"/>
<rect x="689" y="122" width="9" height="121" fill="#ff0000"/>
<rect x="709" y="113" width="1" height="26" fill="#000000"/>
<rect x="704" y="122" width="11" height="5" fill="#000000"/>
<rect x="705" y="123" width="9" height="3" fill="#00ff00"/>
<rect x="725" y="111" width="1" height="31" fill="#000000"/>
<rect x="720" y="126" width="11" height="5" fill="#000000"/>
<rect x="721" y="127" width="9" height="3" fill="#00ff00"/>
<rect x="741" y="123" width="1" height="41" fill="#000000"/>
<rect x="736" y="129" width="11" height="17" fill="#000000"/>
<rect x="737" y="130" width="9" height="15" fill="#00ff00"/>
<rect x="757" y="83" width="1" height="219" fill="#000000"/>
<rect x="752" y="144" width="11" height="87" fill="#000000"/>
<rect x="753" y="145" width="9" height="85" fill="#00ff00"/>
<rect x="773" y="171" width="1" height="101" fill="#000000"/>
<rect x="768" y="178" width="11" height="53" fill="#000000"/>
<rect x="769" y="179" width="9" height="51" fill="#ff0000"/>
<rect x="789" y="168" width="1" height="42" fill="#000000"/>
<rect x="784" y="178" width="11" height="29" fill="#000000"/>
<rect x="785" y="179" width="9" height="27" fill="#00ff00"/>
<rect x="805" y="206" width="1" height="31" fill="#000000"/>
<rect x="800" y="206" width="11" height="14" fill="#000000"/>
<rect x="801" y="207" width="9" height="12" fill="#00ff00"/>
<rect x="821" y="198" width="1" height="29" fill="#000000"/>
<rect x="816" y="210" width="11" height="9" fill="#000000"/>
<rect x="817" y="211" width="9" height="7" fill="#ff0000"/>
<rect x="837" y="190" width="1" height="32" fill="#000000"/>
<rect x="832" y="209" width="11" height="5" fill="#000000"/>
<rect x="833" y="210" width="9" height="3" fill="#00ff00"/>
<rect x="853" y="199" width="1" height="192" fill="#000000"/>
<rect x="848" y="213" width="11" height="53" fill="#000000"/>
<rect x="849" y="214" width="9" height="51" fill="#00ff00"/>
<rect x="869" y="182" width="1" height="96" fill="#000000"/>
<rect x="864" y="185" width="11" height="82" fill="#000000"/>
<rect x="865" y="186" width="9" height="80" fill="#ff0000"/>
<rect x="885" y="154" width="1" height="58" fill="#000000"/>
<rect x="880" y="181" width="11" height="6" fill="#000000"/>
<rect x="881" y="182" width="9" height="4" fill="#ff0000"/>
<rect x="901" y="181" width="1" height="30" fill="#000000"/>
<rect x="896" y="185" width="11" height="7" fill="#000000"/>
<rect x="897" y="186" width="9" height="5" fill="#00ff00"/>
<rect x="917" y="185" width="1" height="17" fill="#000000"/>
<rect x="912" y="187" width="11" height="6" fill="#000000"/>
<rect x="913" y="188" width="9" height="4" fill="#ff0000"/>
<rect x="933" y="186" width="1" height="32" fill="#000000"/>
<rect x="928" y="187" width="11" height="27" fill="#000000"/>
<rect x="929" y="188" width="9" height="25" fill="#00ff00"/>
<rect x="949" y="209" width="1" height="39" fill="#000000"/>
<rect x="944" y="213" width="11" height="13" fill="#000000"/>
<rect x="945" y="214" width="9" height="11" fill="#00ff00"/>
<rect x="965" y="224" width="1" height="115" fill="#000000"/>
<rect x="960" y="225" width="11" height="38" fill="#000000"/>
<rect x="961" y="226" width="9" height="36" fill="#00ff00"/>
<rect x="981" y="240" width="1" height="172" fill="#000000"/>
<rect x="976" y="263" width="11" height="126" fill="#000000"/>
<rect x="977" y="264" width="9" height="124" fill="#00ff00"/>
<rect x="997" y="347" width="1" height="49" fill="#000000"/>
<rect x="992" y="357" width="11" height="33" fill="#000000"/>
<rect x="993" y="358" width="9" height="31" fill="#ff0000"/>
<rect x="1013" y="330" width="1" height="26" fill="#000000"/>
<rect x="1008" y="345" width="11" height="11" fill="#000000"/>
<rect x="1009" y="346" width="9" height="9" fill="#ff0000"/>
<rect x="1029" y="343" width="1" height="29" fill="#000000"/>
<rect x="1024" y="344" width="11" height="18" fill="#000000"/>
<rect x="1025" y="345" width="9" height="16" fill="#00ff00"/>
<rect x="1045" y="338" width="1" height="57" fill="#000000"/>
<rect x="1040" y="361" width="11" height="13" fill="#000000"/>
<rect x="1041" y="362" width="9" height="11" fill="#00ff00"/>
<rect x="1061" y="347" width="1" height="124" fill="#000000"/>
<rect x="1056" y="373" width="11" height="70" fill="#000000"/>
<rect x="1057" y="374" width="9" height="68" fill="#00ff00"/>
<rect x="1077" y="437" width="1" height="146" fill="#000000"/>
<rect x="1072" y="442" width="11" height="122" fill="#000000"/>
<rect x="1073" y="443" width="9" height="120" fill="#00ff00"/>
<rect x="1093" y="496" width="1" height="76" fill="#000000"/>
<rect x="1088" y="502" width="11" height="61" fill="#000000"/>
<rect x="1089" y="503" width="9" height="59" fill="#ff0000"/>
<rect x="1109" y="480" width="1" height="28" fill="#000000"/>
<rect x="1104" y="484" width="11" height="18" fill="#000000"/>
<rect x="1105" y="485" width="9" height="16" fill="#ff0000"/>
<rect x="1125" y="482" width="1" height="45" fill="#000000"/>
<rect x="1120" y="484" width="11" height="29" fill="#000000"/>
<rect x="1121" y="485" width="9" height="27" fill="#00ff00"/>
<rect x="1141" y="486" width="1" height="62" fill="#000000"/>
<rect x="1136" y="512" width="11" height="30" fill="#000000"/>
<rect x="1137" y="513" width="9" height="28" fill="#00ff00"/>
<rect x="1157" y="439" width="1" height="140" fill="#000000"/>
<rect x="1152" y="456" width="11" height="86" fill="#000000"/>
<rect x="1153" y="457" width="9" height="84" fill="#ff0000"/>
<rect x="1173" y="443" width="1" height="106" fill="#000000"/>
<rect x="1168" y="455" width="11" height="71" fill="#000000"/>
<rect x="1169" y="456" width="9" height="69" fill="#00ff00"/>
<rect x="1189" y="504" width="1" height="45" fill="#000000"/>
<rect x="1184" y="509" width="11" height="17" fill="#000000"/>
<rect x="1185" y="510" width="9" height="15" fill="#ff0000"/>
<rect x="1205" y="507" width="1" height="64" fill="#000000"/>
<rect x="1200" y="509" width="11" height="9" fill="#000000"/>
<rect x="1201" y="510" width="9" height="7" fill="#00ff00"/>
<rect x="1221" y="481" width="1" height="48" fill="#000000"/>
<rect x="1216" y="490" width="11" height="28" fill="#000000"/>
<rect x="1217" y="491" width="9" height="26" fill="#ff0000"/>
<rect x="1237" y="483" width="1" height="42" fill="#000000"/>
<rect x="1232" y="488" width="11" height="3" fill="#000000"/>
<rect x="1233" y="489" width="9" height="1" fill="#ff0000"/>
<rect x="1253" y="392" width="1" height="107" fill="#000000"/>
<rect x="1248" y="410" width="11" height="80" fill="#000000"/>
<rect x="1249" y="411" width="9" height="78" fill="#ff0000"/>
<rect x="1269" y="403" width="1" height="95" fill="#000000"/>
<rect x="1264" y="409" width="11" height="67" fill="#000000"/>
<rect x="1265" y="410" width="9" height="65" fill="#00ff00"/>
<rect x="1285" y="435" width="1" height="60" fill="#000000"/>
<rect x="1280" y="453" width="11" height="23" fill="#000000"/>
<rect x="1281" y="454" width="9" height="21" fill="#ff0000"/>
<rect x="1301" y="418" width="1" height="41" fill="#000000"/>
<rect x="1296" y="422" width="11" height="32" fill="#000000"/>
<rect x="1297" y="423" width="9" height="30" fill="#ff0000"/>
<rect x="1317" y="408" width="1" height="22" fill="#000000"/>
<rect x="1312" y="414" width="11" height="9" fill="#000000"/>
<rect x="1313" y="415" width="9" height="7" fill="#ff0000"/>
<rect x="1333" y="406" width="1" height="36" fill="#000000"/>
<rect x="1328" y="415" width="11" height="2" fill="#000000"/>
<rect x="1349" y="381" width="1" height="163" fill="#000000"/>
<rect x="1344" y="415" width="11" height="24" fill="#000000"/>
<rect x="1345" y="416" width="9" height="22" fill="#00ff00"/>
<rect x="1365" y="415" width="1" height="83" fill="#000000"/>
<rect x="1360" y="437" width="11" height="44" fill="#000000"/>
<rect x="1361" y="438" width="9" height="42" fill="#00ff00"/>
<rect x="1381" y="465" width="1" height="104" fill="#000000"/>
<rect x="1376" y="480" width="11" height="84" fill="#000000"/>
<rect x="1377" y="481" width="9" height="82" fill="#00ff00"/>
<rect x="5" y="563" width="1636" height="1" fill="#000000"/>
<rect x="5" y="665" width="2" height="14" fill="#00ff00"/>
<rect x="20" y="664" width="3" height="15" fill="#00ff00"/>
<rect x="36" y="664" width="3" height="15" fill="#00ff00"/>
<rect x="52" y="664" width="3" height="15" fill="#00ff00"/>
<rect x="68" y="663" width="3" height="16" fill="#00ff00"/>
<rect x="84" y="658" width="3" height="21" fill="#00ff00"/>
<rect x="100" y="652" width="3" height="27" fill="#00ff00"/>
<rect x="116" y="647" width="3" height="32" fill="#00ff00"/>
<rect x="132" y="643" width="3" height="36" fill="#00ff00"/>
<rect x="148" y="640" width="3" height="39" fill="#00ff00"/>
<rect x="164" y="638" width="3" height="41" fill="#00ff00"/>
<rect x="180" y="636" width="3" height="43" fill="#00ff00"/>
<rect x="196" y="635" width="3" height="44" fill="#00ff00"/>
<rect x="212" y="633" width="3" height="46" fill="#00ff00"/>
<rect x="228" y="632" width="3" height="47" fill="#00ff00"/>
<rect x="244" y="633" width="3" height="46" fill="#00ff00"/>
<rect x="260" y="632" width="3" height="47" fill="#00ff00"/>
<rect x="276" y="633" width="3" height="46" fill="#00ff00"/>
<rect x="292" y="634" width="3" height="45" fill="#00ff00"/>
<rect x="308" y="635" width="3" height="44" fill="#00ff00"/>
<rect x="324" y="638" width="3" height="41" fill="#00ff00"/>
<rect x="340" y="640" width="3" height="39" fill="#00ff00"/>
<rect x="356" y="642" width="3" height="37" fill="#00ff00"/>
<rect x="372" y="641" width="3" height="38" fill="#00ff00"/>
<rect x="388" y="641" width="3" height="38" fill="#00ff00"/>
<rect x="404" y="644" width="3" height="35" fill="#00ff00"/>
<rect x="420" y="648" width="3" height="31" fill="#00ff00"/>
<rect x="436" y="651" width="3" height="28" fill="#00ff00"/>
<rect x="452" y="655" width="3" height="24" fill="#00ff00"/>
<rect x="468" y="659" width="3" height="20" fill="#00ff00"/>
<rect x="484" y="668" width="3" height="11" fill="#00ff00"/>
<rect x="500" y="676" width="3" height="3" fill="#00ff00"/>
<rect x="516" y="679" width="3" height="2" fill="#00ff00"/>
<rect x="532" y="679" width="3" height="6" fill="#00ff00"/>
<rect x="548" y="679" width="3" height="9" fill="#00ff00"/>
<rect x="564" y="679" width="3" height="12" fill="#00ff00"/>
<rect x="580" y="679" width="3" height="16" fill="#00ff00"/>
<rect x="596" y="679" width="3" height="18" fill="#00ff00"/>
<rect x="612" y="679" width="3" height="18" fill="#00ff00"/>
<rect x="628" y="679" width="3" height="18" fill="#00ff00"/>
<rect x="644" y="679" width="3" height="18" fill="#00ff00"/>
<rect x="660" y="679" width="3" height="22" fill="#00ff00"/>
<rect x="676" y="679" width="3" height="11" fill="#00ff00"/>
<rect x="692" y="674" width="3" height="5" fill="#00ff00"/>
<rect x="708" y="662" width="3" height="17" fill="#00ff00"/>
<rect x="724" y="654" width="3" height="25" fill="#00ff00"/>
<rect x="740" y="648" width="3" height="31" fill="#00ff00"/>
<rect x="756" y="649" width="3" height="30" fill="#00ff00"/>
<rect x="772" y="646" width="3" height="33" fill="#00ff00"/>
<rect x="788" y="647" width="3" height="32" fill="#00ff00"/>
<rect x="804" y="648" width="3" height="31" fill="#00ff00"/>
<rect x="820" y="649" width="3" height="30" fill="#00ff00"/>
<rect x="836" y="651" width="3" height="28" fill="#00ff00"/>
<rect x="852" y="654" width="3" height="25" fill="#00ff00"/>
<rect x="868" y="654" width="3" height="25" fill="#00ff00"/>
<rect x="884" y="653" width="3" height="26" fill="#00ff00"/>
<rect x="900" y="653" width="3" height="26" fill="#00ff00"/>
<rect x="916" y="654" width="3" height="25" fill="#00ff00"/>
<rect x="932" y="656" width="3" height="23" fill="#00ff00"/>
<rect x="948" y="658" width="3" height="21" fill="#00ff00"/>
<rect x="964" y="662" width="3" height="17" fill="#00ff00"/>
<rect x="980" y="673" width="3" height="6" fill="#00ff00"/>
<rect x="996" y="679" width="3" height="2" fill="#00ff00"/>
<rect x="1012" y="679" width="3" height="6" fill="#00ff00"/>
<rect x="1028" y="679" width="3" height="10" fill="#00ff00"/>
<rect x="1044" y="679" width="3" height="14" fill="#00ff00"/>
<rect x="1060" y="679" width="3" height="21" fill="#00ff00"/>
<rect x="1076" y="679" width="3" height="33" fill="#00ff00"/>
<rect x="1092" y="679" width="3" height="39" fill="#00ff00"/>
<rect x="1108" y="679" width="3" height="42" fill="#00ff00"/>
<rect x="1124" y="679" width="3" height="45" fill="#00ff00"/>
<rect x="1140" y="679" width="3" height="49" fill="#00ff00"/>
<rect x="1156" y="679" width="3" height="46" fill="#00ff00"/>
<rect x="1172" y="679" width="3" height="48" fill="#00ff00"/>
<rect x="1188" y="679" width="3" height="48" fill="#00ff00"/>
<rect x="1204" y="679" width="3" height="47" fill="#00ff00"/>
<rect x="1220" y="679" width="3" height="45" fill="#00ff00"/>
<rect x="1236" y="679" width="3" height="43" fill="#00ff00"/>
<rect x="1252" y="679" width="3" height="36" fill="#00ff00"/>
<rect x="1268" y="679" width="3" height="34" fill="#00ff00"/>
<rect x="1284" y="679" width="3" height="31" fill="#00ff00"/>
<rect x="1300" y="679" width="3" height="26" fill="#00ff00"/>
<rect x="1316" y="679" width="3" height="22" fill="#00ff00"/>
<rect x="1332" y="679" width="3" height="18" fill="#00ff00"/>
<rect x="1348" y="679" width="3" height="17" fill="#00ff00"/>
<rect x="1364" y="679" width="3" height="17" fill="#00ff00"/>
<rect x="1380" y="679" width="3" height="23" fill="#00ff00"/>
<path d="M6 756.5H1641" stroke="#000" stroke-width="1" stroke-dasharray="3 3" fill="none"/>
<path d="M6 786.5H1641" stroke="#000" stroke-width="1" stroke-dasharray="3 3" fill="none"/>
<path d="M6 821.5H1641" stroke="#000" stroke-width="1" stroke-dasharray="3 3" fill="none"/>
<rect x="1642" y="60" width="2" height="1" fill="#000000"/>
<rect x="1642" y="93" width="2" height="1" fill="#000000"/>
<rect x="1642" y="126" width="2" height="1" fill="#000000"/>
<rect x="1642" y="159" width="2" height="1" fill="#000000"/>
<rect x="1642" y="192" width="2" height="1" fill="#000000"/>
<rect x="1642" y="225" width="2" height="1" fill="#000000"/>
<rect x="1642" y="258" width="2" height="1" fill="#000000"/>
<rect x="1642" y="291" width="2" height="1" fill="#000000"/>
<rect x="1642" y="324" width="2" height="1" fill="#000000"/>
<rect x="1642" y="357" width="2" height="1" fill="#000000"/>
<rect x="1642" y="390" width="2" height="1" fill="#000000"/>
<rect x="1642" y="423" width="2" height="1" fill="#000000"/>
<rect x="1642" y="456" width="2" height="1" fill="#000000"/>
<rect x="1642" y="489" width="2" height="1" fill="#000000"/>
<rect x="1642" y="522" width="2" height="1" fill="#000000"/>
<rect x="1642" y="555" width="2" height="1" fill="#000000"/>
<rect x="1642" y="588" width="2" height="1" fill="#000000"/>
<rect x="1642" y="679" width="2" height="1" fill="#000000"/>
<rect x="1642" y="628" width="1" height="1" fill="#000000"/>
<rect x="1642" y="731" width="1" height="1" fill="#000000"/>
<rect x="1642" y="736" width="1" height="1" fill="#000000"/>
<rect x="1642" y="836" width="1" height="1" fill="#000000"/>
<rect x="5" y="838" width="1" height="3" fill="#000000"/>
<rect x="69" y="838" width="1" height="3" fill="#000000"/>
<rect x="133" y="838" width="1" height="3" fill="#000000"/>
<rect x="197" y="838" width="1" height="3" fill="#000000"/>
<rect x="261" y="838" width="1" height="3" fill="#000000"/>
<rect x="325" y="838" width="1" height="3" fill="#000000"/>
<rect x="389" y="838" width="1" height="3" fill="#000000"/>
<rect x="453" y="838" width="1" height="3" fill="#000000"/>
<rect x="517" y="838" width="1" height="3" fill="#000000"/>
<rect x="581" y="838" width="1" height="3" fill="#000000"/>
<rect x="645" y="838" width="1" height="3" fill="#000000"/>
<rect x="709" y="838" width="1" height="3" fill="#000000"/>
<rect x="773" y="838" width="1" height="3" fill="#000000"/>
<rect x="837" y="838" width="1" height="3" fill="#000000"/>
<rect x="901" y="838" width="1" height="3" fill="#000000"/>
<rect x="965" y="838" width="1" height="3" fill="#000000"/>
<rect x="1029" y="838" width="1" height="3" fill="#000000"/>
<rect x="1093" y="838" width="1" height="3" fill="#000000"/>
<rect x="1157" y="838" width="1" height="3" fill="#000000"/>
<rect x="1221" y="838" width="1" height="3" fill="#000000"/>
<rect x="1285" y="838" width="1" height="3" fill="#000000"/>
<rect x="1349" y="838" width="1" height="3" fill="#000000"/>
</g>
<polyline points="5.5,667.50 21.5,667.00 37.5,666.00 53.5,666.00 69.5,665.50 85.5,664.50 101.5,663.50 117.5,660.50 133.5,658.00 149.5,654.50 165.5,652.00 181.5,649.50 197.5,646.00 213.5,642.00 229.5,639.50 245.5,637.00 261.5,636.00 277.5,635.50 293.5,634.50 309.5,634.00 325.5,634.00 341.5,634.00 357.5,635.00 373.5,636.50 389.5,637.50 405.5,639.00 421.5,640.50 437.5,642.00 453.5,644.00 469.5,647.00 485.5,650.00 501.5,653.75 517.5,658.00 533.5,662.50 549.5,667.00 565.5,671.25 581.5,676.00 597.5,681.25 613.5,685.75 629.5,689.00 645.5,691.25 661.5,693.50 677.5,693.75 693.5,692.50 709.5,689.50 725.5,685.75 741.5,680.50 757.5,675.00 773.5,669.50 789.5,663.00 805.5,657.00 821.5,653.00 837.5,650.50 853.5,649.00 869.5,649.00 885.5,650.25 901.5,651.00 917.5,651.25 933.5,652.50 949.5,653.50 965.5,655.00 981.5,657.50 997.5,660.75 1013.5,665.00 1029.5,668.50 1045.5,672.25 1061.5,677.00 1077.5,682.50 1093.5,689.50 1109.5,696.00 1125.5,702.50 1141.5,707.50 1157.5,711.25 1173.5,715.00 1189.5,719.00 1205.5,722.50 1221.5,723.75 1237.5,724.00 1253.5,723.50 1269.5,722.50 1285.5,720.50 1301.5,718.00 1317.5,715.50 1333.5,712.50 1349.5,708.50 1365.5,705.50 1381.5,703.50" fill="none" stroke="#ff0000" stroke-width="2" stroke-linejoin="round" shape-rendering="crispEdges"/>
<polyline points="5.5,780.00 21.5,780.00 37.5,780.00 53.5,782.00 69.5,779.25 85.5,770.25 101.5,768.25 117.5,767.00 133.5,767.00 149.5,766.50 165.5,766.00 181.5,765.50 197.5,763.25 213.5,762.50 229.5,762.25 245.5,764.00 261.5,763.00 277.5,763.00 293.5,765.50 309.5,766.50 325.5,768.75 341.5,769.00 357.5,767.50 373.5,762.50 389.5,762.00 405.5,775.00 421.5,780.50 437.5,780.00 453.5,784.00 469.5,787.50 485.5,801.50 501.5,801.50 517.5,797.00 533.5,797.00 549.5,797.50 565.5,800.50 581.5,802.00 597.5,800.50 613.5,795.00 629.5,794.00 645.5,795.00 661.5,805.00 677.5,773.75 693.5,766.75 709.5,766.75 725.5,767.00 741.5,769.50 757.5,779.00 773.5,776.00 789.5,778.50 805.5,780.00 821.5,779.75 837.5,779.00 853.5,785.50 869.5,778.00 885.5,778.75 901.5,779.00 917.5,779.25 933.5,782.00 949.5,783.00 965.5,787.50 981.5,800.00 997.5,796.50 1013.5,794.50 1029.5,796.50 1045.5,797.00 1061.5,802.00 1077.5,808.75 1093.5,802.00 1109.5,800.75 1125.5,802.00 1141.5,804.00 1157.5,794.50 1173.5,799.00 1189.5,797.50 1205.5,796.75 1221.5,794.00 1237.5,793.50 1253.5,786.50 1269.5,792.00 1285.5,789.50 1301.5,786.50 1317.5,786.00 1333.5,786.25 1349.5,788.50 1365.5,792.50 1381.5,799.00" fill="none" stroke="#1e90ff" stroke-width="2" stroke-linejoin="round" shape-rendering="crispEdges"/>
<text x="1647" y="63.65" fill="#000" stroke="#000" stroke-width="0.22" font-size="10" textLength="33.0" lengthAdjust="spacingAndGlyphs">34760.0</text>
<text x="1647" y="96.65" fill="#000" stroke="#000" stroke-width="0.22" font-size="10" textLength="33.0" lengthAdjust="spacingAndGlyphs">34677.5</text>
<text x="1647" y="129.65" fill="#000" stroke="#000" stroke-width="0.22" font-size="10" textLength="33.0" lengthAdjust="spacingAndGlyphs">34595.0</text>
<text x="1647" y="162.65" fill="#000" stroke="#000" stroke-width="0.22" font-size="10" textLength="33.0" lengthAdjust="spacingAndGlyphs">34512.5</text>
<text x="1647" y="195.65" fill="#000" stroke="#000" stroke-width="0.22" font-size="10" textLength="33.0" lengthAdjust="spacingAndGlyphs">34430.0</text>
<text x="1647" y="228.65" fill="#000" stroke="#000" stroke-width="0.22" font-size="10" textLength="33.0" lengthAdjust="spacingAndGlyphs">34347.5</text>
<text x="1647" y="261.65" fill="#000" stroke="#000" stroke-width="0.22" font-size="10" textLength="33.0" lengthAdjust="spacingAndGlyphs">34262.5</text>
<text x="1647" y="294.65" fill="#000" stroke="#000" stroke-width="0.22" font-size="10" textLength="33.0" lengthAdjust="spacingAndGlyphs">34180.0</text>
<text x="1647" y="327.65" fill="#000" stroke="#000" stroke-width="0.22" font-size="10" textLength="33.0" lengthAdjust="spacingAndGlyphs">34097.5</text>
<text x="1647" y="360.65" fill="#000" stroke="#000" stroke-width="0.22" font-size="10" textLength="33.0" lengthAdjust="spacingAndGlyphs">34015.0</text>
<text x="1647" y="393.65" fill="#000" stroke="#000" stroke-width="0.22" font-size="10" textLength="33.0" lengthAdjust="spacingAndGlyphs">33932.5</text>
<text x="1647" y="426.65" fill="#000" stroke="#000" stroke-width="0.22" font-size="10" textLength="33.0" lengthAdjust="spacingAndGlyphs">33850.0</text>
<text x="1647" y="459.65" fill="#000" stroke="#000" stroke-width="0.22" font-size="10" textLength="33.0" lengthAdjust="spacingAndGlyphs">33765.0</text>
<text x="1647" y="492.65" fill="#000" stroke="#000" stroke-width="0.22" font-size="10" textLength="33.0" lengthAdjust="spacingAndGlyphs">33682.5</text>
<text x="1647" y="525.65" fill="#000" stroke="#000" stroke-width="0.22" font-size="10" textLength="33.0" lengthAdjust="spacingAndGlyphs">33600.0</text>
<text x="1647" y="558.65" fill="#000" stroke="#000" stroke-width="0.22" font-size="10" textLength="33.0" lengthAdjust="spacingAndGlyphs">33517.5</text>
<text x="1647" y="591.65" fill="#000" stroke="#000" stroke-width="0.22" font-size="10" textLength="33.0" lengthAdjust="spacingAndGlyphs">33435.0</text>
<g shape-rendering="crispEdges">
<rect x="5" y="490" width="1636" height="2" fill="#ff0000"/>
<rect x="4" y="488" width="6" height="6" fill="#ff0000"/>
<rect x="6" y="490" width="2" height="2" fill="#fff"/>
<rect x="1635" y="488" width="6" height="6" fill="#ff0000"/>
<rect x="1637" y="490" width="2" height="2" fill="#fff"/>
<rect x="1643" y="485" width="41" height="11" fill="#ff0000"/>
<rect x="5" y="520" width="1636" height="2" fill="#ff0000"/>
<rect x="4" y="518" width="6" height="6" fill="#ff0000"/>
<rect x="6" y="520" width="2" height="2" fill="#fff"/>
<rect x="1635" y="518" width="6" height="6" fill="#ff0000"/>
<rect x="1637" y="520" width="2" height="2" fill="#fff"/>
<rect x="1643" y="515" width="41" height="11" fill="#ff0000"/>
<rect x="5" y="551" width="1636" height="2" fill="#ffa500"/>
<rect x="4" y="549" width="6" height="6" fill="#ffa500"/>
<rect x="6" y="551" width="2" height="2" fill="#fff"/>
<rect x="1635" y="549" width="6" height="6" fill="#ffa500"/>
<rect x="1637" y="551" width="2" height="2" fill="#fff"/>
<rect x="1643" y="546" width="41" height="11" fill="#ffa500"/>
<rect x="5" y="595" width="1636" height="2" fill="#0000ff"/>
<rect x="4" y="593" width="6" height="6" fill="#0000ff"/>
<rect x="6" y="595" width="2" height="2" fill="#fff"/>
<rect x="1635" y="593" width="6" height="6" fill="#0000ff"/>
<rect x="1637" y="595" width="2" height="2" fill="#fff"/>
<rect x="1643" y="590" width="41" height="11" fill="#0000ff"/>
<rect x="5" y="622" width="1636" height="2" fill="#0000ff"/>
<rect x="4" y="620" width="6" height="6" fill="#0000ff"/>
<rect x="6" y="622" width="2" height="2" fill="#fff"/>
<rect x="1635" y="620" width="6" height="6" fill="#0000ff"/>
<rect x="1637" y="622" width="2" height="2" fill="#fff"/>
<rect x="1643" y="617" width="41" height="11" fill="#0000ff"/>
<rect x="1643" y="558" width="41" height="11" fill="#000000"/>
<rect x="1406" y="28" width="9" height="1" fill="#000000"/>
<rect x="1407" y="29" width="7" height="1" fill="#000000"/>
<rect x="1408" y="30" width="5" height="1" fill="#000000"/>
<rect x="1409" y="31" width="3" height="1" fill="#000000"/>
<rect x="1410" y="32" width="1" height="1" fill="#000000"/>
<rect x="8" y="34" width="7" height="1" fill="#000000"/>
<rect x="9" y="35" width="5" height="1" fill="#000000"/>
<rect x="10" y="36" width="3" height="1" fill="#000000"/>
<rect x="11" y="37" width="1" height="1" fill="#000000"/>
</g>
<path d="M1409.6 381.8L1475.4 497.8" stroke="#4a9a27" stroke-width="3" fill="none"/>
<path d="M1483.2 512L1466.8 502.2L1483.2 492.8Z" fill="#4a9a27"/>
<text x="1647" y="493.65" fill="#fff" stroke="#fff" stroke-width="0.22" font-size="10" textLength="33.0" lengthAdjust="spacingAndGlyphs">33678.3</text>
<text x="1647" y="523.65" fill="#fff" stroke="#fff" stroke-width="0.22" font-size="10" textLength="33.0" lengthAdjust="spacingAndGlyphs">33603.6</text>
<text x="1647" y="554.65" fill="#fff" stroke="#fff" stroke-width="0.22" font-size="10" textLength="33.0" lengthAdjust="spacingAndGlyphs">33524.4</text>
<text x="1647" y="598.65" fill="#fff" stroke="#fff" stroke-width="0.22" font-size="10" textLength="33.0" lengthAdjust="spacingAndGlyphs">33415.2</text>
<text x="1647" y="625.65" fill="#fff" stroke="#fff" stroke-width="0.22" font-size="10" textLength="33.0" lengthAdjust="spacingAndGlyphs">33347.5</text>
<text x="1647" y="566.65" fill="#fff" stroke="#fff" stroke-width="0.22" font-size="10" textLength="33.0" lengthAdjust="spacingAndGlyphs">33496.5</text>
<text x="1646" y="636.65" fill="#000" stroke="#000" stroke-width="0.22" font-size="10" textLength="27.5" lengthAdjust="spacingAndGlyphs">183.72</text>
<text x="1646" y="682.65" fill="#000" stroke="#000" stroke-width="0.22" font-size="10" textLength="17.5" lengthAdjust="spacingAndGlyphs">0.00</text>
<text x="1645" y="728.65" fill="#000" stroke="#000" stroke-width="0.22" font-size="10" textLength="31.0" lengthAdjust="spacingAndGlyphs">-188.32</text>
<text x="1646" y="744.65" fill="#000" stroke="#000" stroke-width="0.22" font-size="10" textLength="14.5" lengthAdjust="spacingAndGlyphs">100</text>
<text x="1644.5" y="759.65" fill="#000" stroke="#000" stroke-width="0.22" font-size="10" textLength="9.5" lengthAdjust="spacingAndGlyphs">80</text>
<text x="1644.5" y="789.65" fill="#000" stroke="#000" stroke-width="0.22" font-size="10" textLength="9.5" lengthAdjust="spacingAndGlyphs">50</text>
<text x="1645" y="824.65" fill="#000" stroke="#000" stroke-width="0.22" font-size="10" textLength="9.5" lengthAdjust="spacingAndGlyphs">15</text>
<text x="1645" y="833.65" fill="#000" stroke="#000" stroke-width="0.22" font-size="10" textLength="4.8" lengthAdjust="spacingAndGlyphs">0</text>
<text x="20" y="38.65" fill="#000" stroke="#000" stroke-width="0.22" font-size="10" textLength="186.0" lengthAdjust="spacingAndGlyphs">DJ30-,H4  33704.5 33744.5 33485.5 33496.5</text>
<text x="9" y="638.65" fill="#000" stroke="#000" stroke-width="0.22" font-size="10" textLength="124.0" lengthAdjust="spacingAndGlyphs">MACD(12,26,9) -77.69 -85.87</text>
<text x="9" y="746.65" fill="#000" stroke="#000" stroke-width="0.22" font-size="10" textLength="68.0" lengthAdjust="spacingAndGlyphs">RSI(14) 36.8352</text>
<text x="4.3" y="849.65" fill="#000" stroke="#000" stroke-width="0.22" font-size="10" textLength="53.5" lengthAdjust="spacingAndGlyphs">21 Nov 2022</text>
<text x="68.3" y="849.65" fill="#000" stroke="#000" stroke-width="0.22" font-size="10" textLength="56.0" lengthAdjust="spacingAndGlyphs">22 Nov 08:00</text>
<text x="132.3" y="849.65" fill="#000" stroke="#000" stroke-width="0.22" font-size="10" textLength="56.0" lengthAdjust="spacingAndGlyphs">23 Nov 00:00</text>
<text x="196.3" y="849.65" fill="#000" stroke="#000" stroke-width="0.22" font-size="10" textLength="56.0" lengthAdjust="spacingAndGlyphs">23 Nov 16:00</text>
<text x="260.3" y="849.65" fill="#000" stroke="#000" stroke-width="0.22" font-size="10" textLength="56.0" lengthAdjust="spacingAndGlyphs">24 Nov 08:00</text>
<text x="324.3" y="849.65" fill="#000" stroke="#000" stroke-width="0.22" font-size="10" textLength="56.0" lengthAdjust="spacingAndGlyphs">25 Nov 00:00</text>
<text x="388.3" y="849.65" fill="#000" stroke="#000" stroke-width="0.22" font-size="10" textLength="56.0" lengthAdjust="spacingAndGlyphs">25 Nov 16:00</text>
<text x="452.3" y="849.65" fill="#000" stroke="#000" stroke-width="0.22" font-size="10" textLength="56.0" lengthAdjust="spacingAndGlyphs">28 Nov 08:00</text>
<text x="516.3" y="849.65" fill="#000" stroke="#000" stroke-width="0.22" font-size="10" textLength="56.0" lengthAdjust="spacingAndGlyphs">29 Nov 00:00</text>
<text x="580.3" y="849.65" fill="#000" stroke="#000" stroke-width="0.22" font-size="10" textLength="56.0" lengthAdjust="spacingAndGlyphs">29 Nov 16:00</text>
<text x="644.3" y="849.65" fill="#000" stroke="#000" stroke-width="0.22" font-size="10" textLength="56.0" lengthAdjust="spacingAndGlyphs">30 Nov 08:00</text>
<text x="708.3" y="849.65" fill="#000" stroke="#000" stroke-width="0.22" font-size="10" textLength="50.5" lengthAdjust="spacingAndGlyphs">1 Dec 00:00</text>
<text x="772.3" y="849.65" fill="#000" stroke="#000" stroke-width="0.22" font-size="10" textLength="50.5" lengthAdjust="spacingAndGlyphs">1 Dec 16:00</text>
<text x="836.3" y="849.65" fill="#000" stroke="#000" stroke-width="0.22" font-size="10" textLength="50.5" lengthAdjust="spacingAndGlyphs">2 Dec 08:00</text>
<text x="900.3" y="849.65" fill="#000" stroke="#000" stroke-width="0.22" font-size="10" textLength="50.5" lengthAdjust="spacingAndGlyphs">4 Dec 23:00</text>
<text x="964.3" y="849.65" fill="#000" stroke="#000" stroke-width="0.22" font-size="10" textLength="50.5" lengthAdjust="spacingAndGlyphs">5 Dec 12:00</text>
<text x="1028.3" y="849.65" fill="#000" stroke="#000" stroke-width="0.22" font-size="10" textLength="50.5" lengthAdjust="spacingAndGlyphs">6 Dec 04:00</text>
<text x="1092.3" y="849.65" fill="#000" stroke="#000" stroke-width="0.22" font-size="10" textLength="50.5" lengthAdjust="spacingAndGlyphs">6 Dec 20:00</text>
<text x="1156.3" y="849.65" fill="#000" stroke="#000" stroke-width="0.22" font-size="10" textLength="50.5" lengthAdjust="spacingAndGlyphs">7 Dec 12:00</text>
<text x="1220.3" y="849.65" fill="#000" stroke="#000" stroke-width="0.22" font-size="10" textLength="50.5" lengthAdjust="spacingAndGlyphs">8 Dec 04:00</text>
<text x="1284.3" y="849.65" fill="#000" stroke="#000" stroke-width="0.22" font-size="10" textLength="50.5" lengthAdjust="spacingAndGlyphs">8 Dec 20:00</text>
<text x="1348.3" y="849.65" fill="#000" stroke="#000" stroke-width="0.22" font-size="10" textLength="50.5" lengthAdjust="spacingAndGlyphs">9 Dec 12:00</text>
</svg>
</body>
</html>
